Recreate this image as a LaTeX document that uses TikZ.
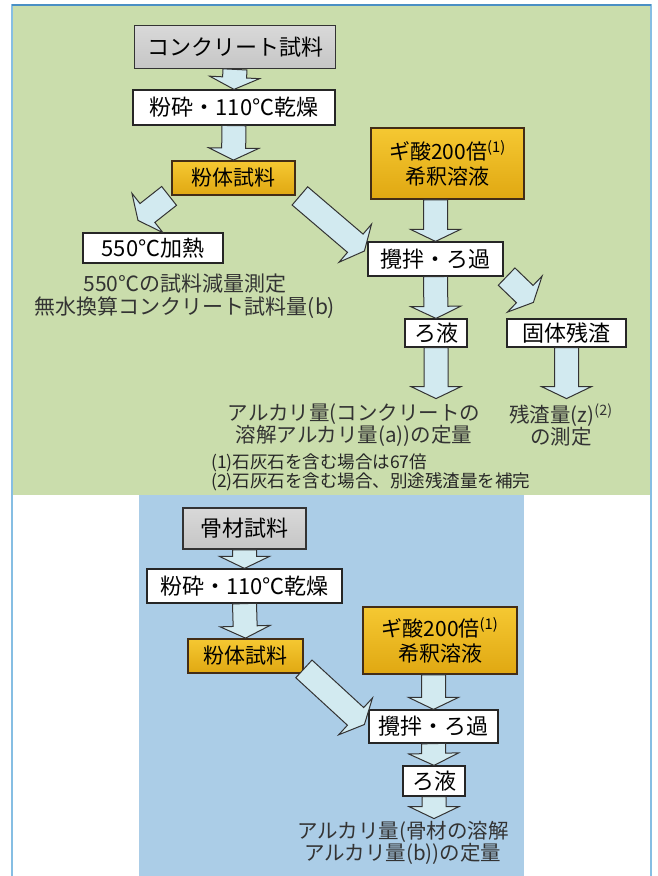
\documentclass[tikz,border=0pt]{standalone}
\usepackage{fontspec}
\setmainfont{Noto Sans CJK JP}
\usetikzlibrary{calc}
\definecolor{panelgreen}{HTML}{CADDAC}
\definecolor{panelblue}{HTML}{ABCDE7}
\definecolor{frameblue}{HTML}{86BEE3}
\definecolor{frametop}{HTML}{4A8FC4}
\definecolor{arrowfill}{HTML}{D2EAF0}
\definecolor{goldtop}{HTML}{F5C832}
\definecolor{goldbot}{HTML}{E0A812}
\begin{document}
\begin{tikzpicture}[
    x=1pt, y=-1pt,
    BX/.style={inner sep=0pt, text=black},
    GB/.style={BX, draw=black!80, line width=1.8pt, top color=gray!30, middle color=gray!17, bottom color=gray!45, font=\fontsize{22pt}{24pt}\selectfont},
    YB/.style={BX, draw=black!65!brown, line width=1.8pt, top color=goldtop, bottom color=goldbot, font=\fontsize{21pt}{25pt}\selectfont},
    WB/.style={BX, draw=black!85, line width=1.2pt, fill=white, font=\fontsize{22pt}{24pt}\selectfont},
    TX/.style={align=center, inner sep=0pt, text=black!80, font=\fontsize{20.5pt}{20.5pt}\selectfont},
    NT/.style={align=left, inner sep=0pt, text=black!85, font=\fontsize{17.5pt}{15.5pt}\selectfont},
    BA/.style={draw=black!80, fill=arrowfill, line width=1pt, line join=miter,
      to path={($(\tikztostart)!12pt!90:(\tikztotarget)$)
        -- ($(\tikztotarget)!12pt!(\tikztostart)!12pt!90:(\tikztotarget)$)
        -- ($(\tikztotarget)!12pt!(\tikztostart)!25pt!90:(\tikztotarget)$)
        -- (\tikztotarget)
        -- ($(\tikztotarget)!12pt!(\tikztostart)!25pt!-90:(\tikztotarget)$)
        -- ($(\tikztotarget)!12pt!(\tikztostart)!12pt!-90:(\tikztotarget)$)
        -- ($(\tikztostart)!12pt!-90:(\tikztotarget)$) -- cycle}}
    ]
    \useasboundingbox (0,0) rectangle (658,876);
    \fill [panelgreen] (12,5) rectangle (651,495);
    \fill [panelblue] (139,495) rectangle (524,876);
    \draw [frameblue, line width=2pt] (12,876) -- (12,5) -- (651,5) -- (651,876);
    \draw [frametop, line width=1.5pt] (12,5) -- (651,5);

    % concrete
    \node [GB, minimum width=201pt, minimum height=43pt] (con) at (235,47) {コンクリート試料};
    \node [WB, minimum width=202pt, minimum height=35pt] (dry1) at (234,107.5) {粉砕・110℃乾燥};
    \node [YB, minimum width=123pt, minimum height=34pt] (pow1) at (233.5,178) {粉体試料};
    \node [YB, minimum width=153pt, minimum height=71pt, align=center] (fa1) at (447.5,163.5) {ギ酸200倍\textsuperscript{(1)}\\希釈溶液};
    \node [WB, minimum width=140pt, minimum height=30pt] (heat) at (153,248) {550℃加熱};
    \node [WB, minimum width=135pt, minimum height=34pt] (stir1) at (435.5,259) {攪拌・ろ過};
    \node [WB, minimum width=62pt, minimum height=28pt] (filt1) at (436,333) {ろ液};
    \node [WB, minimum width=119pt, minimum height=28pt] (res) at (566.5,333) {固体残渣};
    \node [TX, font=\fontsize{21pt}{23pt}\selectfont] (loss) at (185,296.5) {550℃の試料減量測定\\無水換算コンクリート試料量(b)};
    \node [TX] (alk1) at (354,425) {アルカリ量(コンクリートの\\溶解アルカリ量(a))の定量};
    \node [TX] (resz) at (561,425) {残渣量(z)\textsuperscript{(2)}\\の測定};
    \node [NT, anchor=west] (note) at (211,472.5) {(1)石灰石を含む場合は67倍\\(2)石灰石を含む場合、別途残渣量を補完};

    \coordinate (heattip) at ($(heat.north)+(-15,-12)$);
    \coordinate (restip) at ($(res.north west)+(27,-16)$);
    \draw [BA] (con.south) to (dry1.north);
    \draw [BA] (dry1.south) to (pow1.north);
    \draw [BA] ($(pow1.south west)+(-2,0)$) to (heattip);
    \draw [BA] ($(pow1.south east)+(4,0)$) to ($(stir1.west)+(-3,-8)$);
    \draw [BA] (fa1.south -| stir1.north) to (stir1.north);
    \draw [BA] (stir1.south) to (filt1.north);
    \draw [BA] ($(stir1.south east)+(3,0)$) to (restip);
    \draw [BA] (filt1.south) to ($(filt1.south)+(0,51)$);
    \draw [BA] (res.south) to ($(res.south)+(0,51)$);

    % aggregate
    \node [GB, minimum width=123pt, minimum height=41pt] (agg) at (244.5,528.5) {骨材試料};
    \node [WB, minimum width=195pt, minimum height=34pt] (dry2) at (244.5,586) {粉砕・110℃乾燥};
    \node [YB, minimum width=115pt, minimum height=34pt] (pow2) at (245.5,656) {粉体試料};
    \node [YB, minimum width=154pt, minimum height=67pt, align=center] (fa2) at (440,640.5) {ギ酸200倍\textsuperscript{(1)}\\希釈溶液};
    \node [WB, minimum width=129pt, minimum height=33pt] (stir2) at (433.5,726.5) {攪拌・ろ過};
    \node [WB, minimum width=62pt, minimum height=30pt] (filt2) at (434,781) {ろ液};
    \node [TX] (alk2) at (403,843) {アルカリ量(骨材の溶解\\アルカリ量(b))の定量};

    \draw [BA] (agg.south) to (dry2.north);
    \draw [BA] (dry2.south) to (pow2.north);
    \draw [BA] ($(pow2.south east)+(0,-5)$) to ($(stir2.west)+(-4,-2)$);
    \draw [BA] (fa2.south -| stir2.north) to (stir2.north);
    \draw [BA] (stir2.south) to (filt2.north);
    \draw [BA] (filt2.south) to ($(filt2.south)+(0,22)$);
\end{tikzpicture}
\end{document}
